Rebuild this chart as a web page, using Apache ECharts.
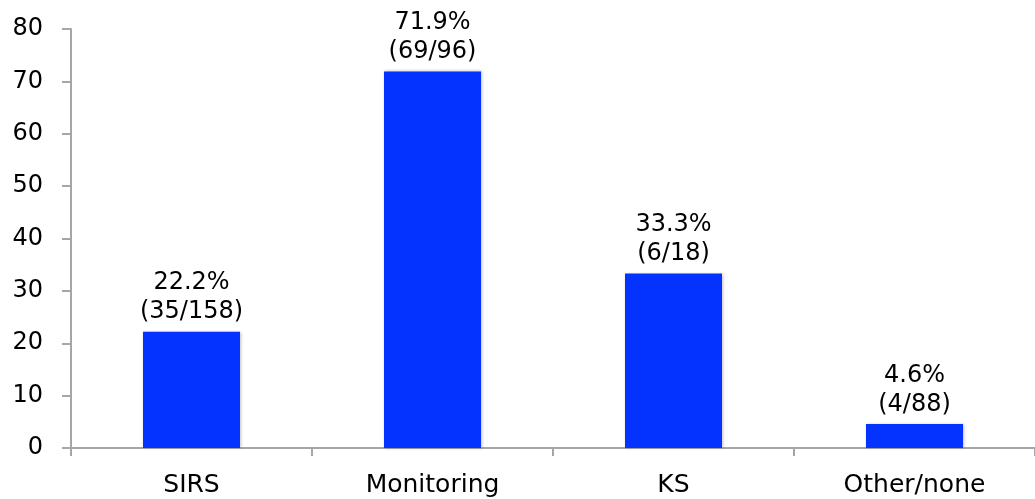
<!DOCTYPE html>
<html>
<head>
<meta charset="utf-8">
<script src="https://cdn.jsdelivr.net/npm/echarts@6/dist/echarts.min.js"></script>
<style>
  html, body { margin: 0; padding: 0; background: #fff; }
  #chart { width: 1035px; height: 499px; }
</style>
</head>
<body>
<div id="chart"></div>
<script>
// values
var categories = ['SIRS', 'Monitoring', 'KS', 'Other/none'];
var percents = [22.2, 71.9, 33.3, 4.6];
var fractions = ['35/158', '69/96', '6/18', '4/88'];
var yTicks = [0, 10, 20, 30, 40, 50, 60, 70, 80];

var chart = echarts.init(document.getElementById('chart'));

var option = {
    animation: false,
    textStyle: { fontFamily: 'DejaVu Sans, Verdana, sans-serif' },
    grid: { left: 71, right: -8, top: 29, bottom: 51, containLabel: false },
    xAxis: {
        type: 'category',
        data: categories,
        axisLine: { lineStyle: { color: '#a6a6a6', width: 2 } },
        axisTick: { show: true, length: 8, alignWithLabel: false, lineStyle: { color: '#a6a6a6', width: 2 } },
        axisLabel: { color: '#000', fontSize: 25, margin: 25 }
    },
    yAxis: {
        type: 'value',
        min: yTicks[0],
        max: yTicks[yTicks.length - 1],
        interval: 10,
        splitLine: { show: false },
        axisLine: { show: true, lineStyle: { color: '#a6a6a6', width: 2 } },
        axisTick: { show: true, length: 9, lineStyle: { color: '#a6a6a6', width: 2 } },
        axisLabel: { color: '#000', fontSize: 24, margin: 28 }
    },
    series: [{
        type: 'bar',
        data: percents,
        barWidth: 97,
        itemStyle: {
            color: '#0433ff',
            shadowColor: 'rgba(0,0,0,0.25)',
            shadowBlur: 3,
            shadowOffsetX: 1,
            shadowOffsetY: 0
        },
        label: {
            show: true,
            position: 'top',
            distance: 5,
            color: '#000',
            fontSize: 24,
            lineHeight: 29,
            formatter: function (p) {
                return percents[p.dataIndex].toFixed(1) + '%\n(' + fractions[p.dataIndex] + ')';
            }
        }
    }]
};

chart.setOption(option);
</script>
</body>
</html>
